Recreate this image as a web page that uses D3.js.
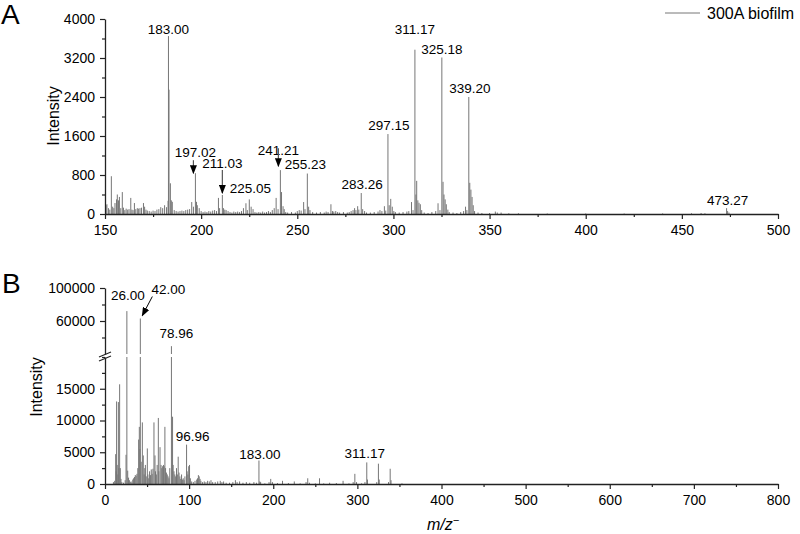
<!DOCTYPE html>
<html>
<head>
<meta charset="utf-8">
<script src="https://cdn.jsdelivr.net/npm/d3@7"></script>
<style>
  body { margin: 0; background: #fff; }
  svg { display: block; font-family: "Liberation Sans", Arial, sans-serif; }
</style>
</head>
<body>
<script>
// chart size
var width = 800;
var height = 534;

// ---- data: [m/z, intensity] ----
var peaksA = [
  [150.5,180],[151,200],[151.8,120],[152.5,90],[153.3,775],[154,150],[154.6,120],[155.2,225],
  [156,300],[156.4,400],[157,280],[157.5,350],[158.2,120],[159,450],[159.6,130],[160.3,80],
  [161,110],[161.8,90],[162.5,100],[163.4,330],[164,90],[164.6,80],[165.3,225],[166,100],
  [166.8,120],[167.5,110],[168.2,120],[169,130],[170,225],[170.6,150],[171.3,90],[172,70],
  [173,60],[174,50],[175,70],[176,60],[177,90],[178,100],[179,140],[180,120],[181,180],
  [182,140],[182.8,270],[183.0,3650],[183.3,2550],[184,630],[184.5,280],[185,250],[186,80],
  [187,60],[188,50],[189,60],[190,70],[191,60],[192,80],[193,90],[194,100],[195.1,245],
  [196,150],[197.02,837],[197.6,250],[198,180],[199,120],[200,60],[201,40],[202,50],[203,40],
  [204,60],[205,50],[206,70],[207,80],[208,60],[209,330],[209.6,120],[211.03,390],[211.6,120],
  [212.3,90],[213,80],[214,60],[215,40],[216,30],[217,50],[218,40],[219,50],[220,40],[221,60],
  [222,120],[223.3,220],[224,80],[225.05,300],[226,150],[227,100],[228,40],[229,30],[230,40],
  [231,30],[232,50],[233,30],[234,40],[235,60],[236,40],[237,80],[238,120],[239,330],[240,100],
  [241.21,900],[241.8,450],[242.6,160],[243.2,100],[244,40],[245,30],[247,40],[249,30],[250,60],
  [251,80],[252,70],[253.3,245],[254,100],[255.23,830],[255.9,150],[256.6,80],[258,40],[260,30],
  [262,40],[264,30],[265,50],[266,40],[267.5,200],[268.3,60],[269,50],[270,60],[271,40],[272,30],
  [274,40],[276,30],[277,40],[278,60],[279,80],[279.8,120],[280.5,80],[281.4,160],[282,90],
  [283.26,430],[284,100],[285,60],[286,30],[288,30],[290,40],[292,50],[293,80],[294,60],
  [295.3,160],[296,70],[297.15,1640],[297.8,180],[298.6,310],[299.4,150],[300.2,60],[301,40],
  [303,30],[305,40],[307,50],[308,60],[309.4,245],[310.2,80],[311.17,3370],[311.7,400],
  [312.1,680],[312.7,280],[313.3,230],[314,200],[314.7,80],[316,30],[318,20],[320,40],[322,60],
  [323.2,220],[324.2,80],[325.18,3210],[325.8,660],[326.3,400],[326.9,300],[327.5,200],
  [328.3,90],[329,40],[331,30],[333,20],[335,40],[336.5,60],[337.5,150],[338.2,80],
  [339.20,2400],[339.7,640],[340.3,500],[340.9,350],[341.5,180],[342.2,60],[344,30],[346,20],
  [350,20],[353,50],[354,30],[356,30],[360,15],[365,15],[380,10],[400,10],[420,10],[440,12],
  [455,15],[460,20],[462,15],[473.27,120],[473.8,60],[474.5,30]
];

var peaksB = [
  [10,300],[11.5,500],[12.7,4700],[13.3,2000],[13.8,13000],[14.5,3000],[15.3,1500],[15.9,12900],
  [16.5,2500],[17.4,15700],[18.2,2500],[19,800],[20,300],[22,200],[24,600],[25,4600],[26.0,72000],
  [27,2100],[28,1000],[29,600],[30,300],[31,400],[32,200],[33,700],[34,900],[35,1100],[36,1400],
  [37,1300],[38,1600],[39,2500],[40,7000],[40.8,9000],[41.5,5500],[42.0,63000],[43,3500],
  [44.4,9700],[45.5,4500],[46.5,1500],[47.3,2500],[48,3000],[49,1200],[50.3,5600],[51,1500],
  [52,900],[53,2000],[54,1400],[55,2300],[56,1600],[57,2400],[58.2,9700],[59.4,4500],[60,2000],
  [61,1500],[62,3000],[63.4,10400],[64,2000],[65.4,5800],[66.6,3000],[67.5,2500],[68.5,2800],
  [69.5,3000],[70.3,2800],[71.2,9000],[72,2500],[73,1800],[74,1500],[75,1200],[76,900],[77,2500],
  [78.96,29500],[80.3,10600],[81,3000],[82,2000],[83,1500],[84,1200],[85,2500],[86,1500],
  [87,4300],[88,1800],[89,1200],[90,800],[91,1500],[92,700],[93,900],[94,600],[95,1200],
  [96.96,6200],[97.6,2000],[98.5,1500],[99.5,2800],[100.5,3000],[101.5,900],[103,400],[105,300],
  [107,500],[109,700],[110,900],[111,1400],[112,1200],[113,800],[114,500],[116,300],[118,400],
  [120,300],[122,500],[124,400],[126,600],[128,300],[131,300],[134,400],[137,500],[139,300],
  [141,400],[144,200],[148,200],[152,300],[155,600],[157,300],[160,400],[164,200],[168,300],
  [172,200],[177,300],[180,200],[183.0,3700],[184,400],[185,300],[190,100],[195,300],[197,800],
  [199,300],[205,150],[211,500],[218,150],[225,400],[232,100],[239,300],[241,900],[243,200],
  [250,100],[255,900],[260,100],[267,200],[275,150],[283,500],[290,100],[295,300],[297,1600],
  [299,300],[305,100],[309,300],[311.17,3400],[312,700],[323,300],[325,3200],[326,700],
  [337,300],[339,2400],[340,600],[353,100]
];

// peak annotations [m/z, intensity, text]
var labelsA = [
  [183.00,3650,"183.00"],[197.02,837,"197.02"],[211.03,390,"211.03"],[225.05,300,"225.05"],
  [241.21,900,"241.21"],[255.23,830,"255.23"],[283.26,430,"283.26"],[297.15,1640,"297.15"],
  [311.17,3370,"311.17"],[325.18,3210,"325.18"],[339.20,2400,"339.20"],[473.27,120,"473.27"]
];
var labelsB = [
  [26.0,72000,"26.00"],[42.0,63000,"42.00"],[78.96,29500,"78.96"],[96.96,6200,"96.96"],
  [183.0,3700,"183.00"],[311.17,3400,"311.17"]
];

// ticks
var xTicksA = [150,200,250,300,350,400,450,500];
var xMinorA = [175,225,275,325,375,425,475];
var yTicksA = [0,800,1600,2400,3200,4000];
var yMinorA = [400,1200,2000,2800,3600];
var xTicksB = [0,100,200,300,400,500,600,700,800];
var xMinorB = [50,150,250,350,450,550,650,750];
var yTicksBLow = [0,5000,10000,15000];
var yMinorBLow = [2500,7500,12500,17500,20000];
var yTicksBHigh = [60000,100000];
var yMinorBHigh = [40000,80000];

var seriesName = "300A biofilm";

// ---- layout ----
var left = 105, right = 778;
var axisColor = "#222";
var peakColor = "#767676";

var svg = d3.select("body").append("svg")
  .attr("width", width)
  .attr("height", height);

var defs = svg.append("defs");
defs.append("marker")
  .attr("id", "arrowHead")
  .attr("markerUnits", "userSpaceOnUse")
  .attr("markerWidth", 9).attr("markerHeight", 7)
  .attr("refX", 8).attr("refY", 3.5)
  .attr("orient", "auto")
  .append("path")
  .attr("d", "M0,0L9,3.5L0,7Z")
  .attr("fill", "#000");

function styleAxis(g) {
  g.selectAll("path.domain").attr("stroke", axisColor).attr("stroke-width", 1.3);
  g.selectAll(".tick line").attr("stroke", axisColor).attr("stroke-width", 1.2);
  g.selectAll(".tick text").attr("fill", "#000").style("font-size", "14px")
    .style("font-family", "'Liberation Sans', Arial, sans-serif");
}

function xAxes(x, y0, major, minor) {
  var g = svg.append("g").attr("transform", "translate(0," + y0 + ")");
  g.call(d3.axisBottom(x).tickValues(major).tickSize(5).tickSizeOuter(0).tickPadding(6))
    .call(styleAxis);
  svg.append("g").attr("transform", "translate(0," + y0 + ")")
    .call(d3.axisBottom(x).tickValues(minor).tickSize(3).tickFormat(""))
    .call(function (s) { s.select("path.domain").remove(); })
    .call(styleAxis);
}

function yAxes(y, major, minor) {
  svg.append("g").attr("transform", "translate(" + left + ",0)")
    .call(d3.axisLeft(y).tickValues(major).tickSize(5).tickSizeOuter(0).tickPadding(5).tickFormat(d3.format("d")))
    .call(styleAxis);
  svg.append("g").attr("transform", "translate(" + left + ",0)")
    .call(d3.axisLeft(y).tickValues(minor).tickSize(3).tickFormat(""))
    .call(function (s) { s.select("path.domain").remove(); })
    .call(styleAxis);
}

// ================= Panel A =================
var xA = d3.scaleLinear().domain([150, 500]).range([left, right]);
var yA = d3.scaleLinear().domain([0, 4000]).range([214, 19]);

svg.append("g").selectAll("line")
  .data(peaksA)
  .enter().append("line")
  .attr("x1", function (d) { return xA(d[0]); })
  .attr("x2", function (d) { return xA(d[0]); })
  .attr("y1", yA(0))
  .attr("y2", function (d) { return yA(d[1]); })
  .attr("stroke", peakColor)
  .attr("stroke-width", 1);

xAxes(xA, yA(0), xTicksA, xMinorA);
yAxes(yA, yTicksA, yMinorA);

// label placement: [dx, gap above peak top]; arrows: [arrow start, arrow end, dx] above peak
var nudgeA = {
  "183.00": [0, 2], "197.02": [0, 16], "211.03": [0, 26.5], "225.05": [1, 6],
  "241.21": [-2, 15], "255.23": [-2, 5], "283.26": [1, 4], "297.15": [1, 4],
  "311.17": [0, 16], "325.18": [0, 4], "339.20": [1, 4], "473.27": [1, 3]
};
var arrowA = { "197.02": [13, 0, -2], "211.03": [25, 2, 0], "241.21": [22, 4, -2] };

labelsA.forEach(function (l) {
  var px = xA(l[0]), py = yA(l[1]);
  var n = nudgeA[l[2]];
  svg.append("text")
    .attr("x", px + n[0]).attr("y", py - n[1])
    .attr("text-anchor", "middle")
    .style("font-size", "13.5px")
    .text(l[2]);
  if (arrowA[l[2]]) {
    var a = arrowA[l[2]];
    svg.append("line")
      .attr("x1", px + a[2]).attr("x2", px + a[2])
      .attr("y1", py - a[0]).attr("y2", py - a[1])
      .attr("stroke", "#555").attr("stroke-width", 1.2)
      .attr("marker-end", "url(#arrowHead)");
  }
});

// legend
svg.append("line")
  .attr("x1", 665).attr("x2", 700).attr("y1", 13).attr("y2", 13)
  .attr("stroke", peakColor).attr("stroke-width", 1);
svg.append("text")
  .attr("x", 707).attr("y", 19)
  .style("font-size", "16px")
  .text(seriesName);

// ================= Panel B (broken y axis) =================
var xB = d3.scaleLinear().domain([0, 800]).range([left, right]);
var yLow = d3.scaleLinear().domain([0, 20000]).range([484, 357]);
var yHigh = d3.scaleLinear().domain([20000, 100000]).range([354, 288]);
var breakAt = 20000;

var peakG = svg.append("g");
peaksB.forEach(function (d) {
  var px = xB(d[0]);
  var top = d[1] > breakAt ? yLow(breakAt) : yLow(d[1]);
  peakG.append("line")
    .attr("x1", px).attr("x2", px)
    .attr("y1", yLow(0)).attr("y2", top)
    .attr("stroke", peakColor).attr("stroke-width", 1);
  if (d[1] > breakAt) {
    peakG.append("line")
      .attr("x1", px).attr("x2", px)
      .attr("y1", yHigh(breakAt)).attr("y2", yHigh(d[1]))
      .attr("stroke", peakColor).attr("stroke-width", 1);
  }
});

xAxes(xB, yLow(0), xTicksB, xMinorB);
yAxes(yLow, yTicksBLow, yMinorBLow);
yAxes(yHigh, yTicksBHigh, yMinorBHigh);

// break marks on the y axis
[0, 4].forEach(function (off) {
  svg.append("line")
    .attr("x1", left - 6).attr("x2", left + 6)
    .attr("y1", yHigh(breakAt) + 3 + off).attr("y2", yHigh(breakAt) - 2 + off)
    .attr("stroke", axisColor).attr("stroke-width", 1.2);
});

var nudgeB = {
  "26.00": [1, 11], "42.00": [28, 25], "78.96": [5, 8], "96.96": [6, 4],
  "183.00": [1, 2], "311.17": [-2, 4]
};

labelsB.forEach(function (l) {
  var px = xB(l[0]);
  var py = l[1] > breakAt ? yHigh(l[1]) : yLow(l[1]);
  var n = nudgeB[l[2]];
  svg.append("text")
    .attr("x", px + n[0]).attr("y", py - n[1])
    .attr("text-anchor", "middle")
    .style("font-size", "13.5px")
    .text(l[2]);
});

// arrow to 42.00
svg.append("line")
  .attr("x1", xB(42) + 12).attr("y1", yHigh(63000) - 22)
  .attr("x2", xB(42) + 2).attr("y2", yHigh(63000) - 3)
  .attr("stroke", "#000").attr("stroke-width", 1)
  .attr("marker-end", "url(#arrowHead)");

// ================= titles =================
svg.append("text").attr("x", 1).attr("y", 24).style("font-size", "28px").text("A");
svg.append("text").attr("x", 2).attr("y", 293).style("font-size", "28px").text("B");

svg.append("text")
  .attr("transform", "translate(59,116) rotate(-90)")
  .attr("text-anchor", "middle")
  .style("font-size", "16px")
  .text("Intensity");
svg.append("text")
  .attr("transform", "translate(42,387) rotate(-90)")
  .attr("text-anchor", "middle")
  .style("font-size", "16px")
  .text("Intensity");

var xl = svg.append("text")
  .attr("x", 443).attr("y", 530)
  .attr("text-anchor", "middle")
  .style("font-size", "16px")
  .style("font-style", "italic");
xl.append("tspan").text("m/z");
xl.append("tspan").attr("dy", -6).style("font-size", "11px").text("\u2212");
</script>
</body>
</html>
